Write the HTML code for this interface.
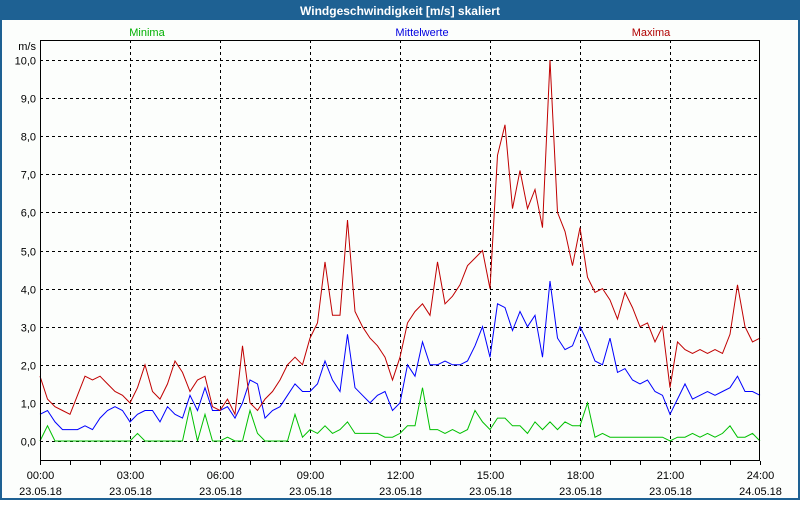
<!DOCTYPE html>
<html><head><meta charset="utf-8"><style>
body{margin:0;width:800px;height:500px;overflow:hidden;font-family:"Liberation Sans",sans-serif}
</style></head><body>
<svg id="chart" width="800" height="500" xmlns="http://www.w3.org/2000/svg" font-family="Liberation Sans, sans-serif">
<rect x="0" y="0" width="800" height="500" fill="#1e6193"/>
<rect x="2" y="20" width="796" height="478" fill="#fcfefc"/>
<text x="400" y="15" fill="#fff" font-size="12" font-weight="bold" text-anchor="middle">Windgeschwindigkeit [m/s] skaliert</text>
<text x="147" y="36" fill="#00b000" font-size="11" text-anchor="middle">Minima</text>
<text x="422" y="36" fill="#0000e0" font-size="11" text-anchor="middle">Mittelwerte</text>
<text x="651" y="36" fill="#b00000" font-size="11" text-anchor="middle">Maxima</text>
<text x="36" y="50" font-size="11" text-anchor="end">m/s</text>
<g id="grid"></g>
<g id="series"></g>
<rect x="40.5" y="40.5" width="719" height="420" fill="none" stroke="#000"/>
<g id="axes"></g>
</svg>
<script>
const hours=[0,3,6,9,12,15,18,21,24];
const dateLabels=["23.05.18","23.05.18","23.05.18","23.05.18","23.05.18","23.05.18","23.05.18","23.05.18","24.05.18"];
const yTicks=[0,1,2,3,4,5,6,7,8,9,10];
const maxima=[1.7,1.1,0.9,0.8, 0.7,1.2,1.7,1.6, 1.7,1.5,1.3,1.2, 1.0,1.4,2.0,1.3, 1.1,1.5,2.1,1.8, 1.3,1.6,1.7,0.9, 0.8,1.1,0.7,2.5, 1.0,0.8,1.1,1.3, 1.6,2.0,2.2,2.0, 2.7,3.1,4.7,3.3, 3.3,5.8,3.4,3.0, 2.7,2.5,2.2,1.6, 2.2,3.1,3.4,3.6, 3.3,4.7,3.6,3.8, 4.1,4.6,4.8,5.0, 4.0,7.5,8.3,6.1, 7.1,6.1,6.6,5.6, 10.0,6.0,5.5,4.6, 5.6,4.3,3.9,4.0, 3.7,3.2,3.9,3.5, 3.0,3.1,2.6,3.0, 1.4,2.6,2.4,2.3, 2.4,2.3,2.4,2.3, 2.8,4.1,3.0,2.6, 2.7];
const mittel=[0.7,0.8,0.5,0.3, 0.3,0.3,0.4,0.3, 0.6,0.8,0.9,0.8, 0.5,0.7,0.8,0.8, 0.5,0.9,0.7,0.6, 1.2,0.8,1.4,0.8, 0.8,0.9,0.6,1.0, 1.6,1.5,0.6,0.8, 0.9,1.2,1.5,1.3, 1.3,1.5,2.1,1.6, 1.3,2.8,1.4,1.2, 1.0,1.2,1.3,0.8, 1.0,2.0,1.7,2.6, 2.0,2.0,2.1,2.0, 2.0,2.1,2.5,3.0, 2.2,3.6,3.5,2.9, 3.4,3.0,3.3,2.2, 4.2,2.7,2.4,2.5, 3.0,2.6,2.1,2.0, 2.7,1.8,1.9,1.6, 1.5,1.6,1.3,1.2, 0.7,1.1,1.5,1.1, 1.2,1.3,1.2,1.3, 1.4,1.7,1.3,1.3, 1.2];
const minima=[0,0.4,0,0, 0,0,0,0, 0,0,0,0, 0,0.2,0,0, 0,0,0,0, 0.9,0,0.7,0, 0,0.1,0,0, 0.8,0.2,0,0, 0,0,0.7,0.1, 0.3,0.2,0.4,0.2, 0.3,0.5,0.2,0.2, 0.2,0.2,0.1,0.1, 0.2,0.4,0.4,1.4, 0.3,0.3,0.2,0.3, 0.2,0.3,0.8,0.5, 0.3,0.6,0.6,0.4, 0.4,0.2,0.5,0.3, 0.5,0.3,0.5,0.4, 0.4,1.0,0.1,0.2, 0.1,0.1,0.1,0.1, 0.1,0.1,0.1,0.1, 0,0.1,0.1,0.2, 0.1,0.2,0.1,0.2, 0.4,0.1,0.1,0.2, 0];
const NS="http://www.w3.org/2000/svg";
const xScale=h=>40+h*30;
const yScale=v=>441-v*38.1;
function mk(tag,attrs,parent){const e=document.createElementNS(NS,tag);for(const k in attrs)e.setAttribute(k,attrs[k]);parent.appendChild(e);return e;}
const grid=document.getElementById('grid'),axes=document.getElementById('axes'),series=document.getElementById('series');
yTicks.forEach(v=>{
  const y=Math.round(yScale(v))+0.5;
  const l=mk('line',{x1:40,x2:760,y1:y,y2:y,stroke:'#000','stroke-dasharray':'3,3'},grid);
  
  
  const t=mk('text',{x:36,y:y+4,'font-size':11,'text-anchor':'end'},axes);
  t.textContent=v.toFixed(1).replace('.',',');
  
  
});
hours.forEach((h,i)=>{
  const x=xScale(h)+0.5;
  if(h>0&&h<24){const l=mk('line',{x1:x,x2:x,y1:40,y2:461,stroke:'#000','stroke-dasharray':'3,3'},grid);
  
  }
  const t=mk('text',{x:x,y:479,'font-size':11,'text-anchor':'middle'},axes);
  t.textContent=String(h).padStart(2,'0')+':00';
  
  
  const d=mk('text',{x:x,y:495,'font-size':11,'text-anchor':'middle'},axes);
  d.textContent=dateLabels[i];
  
  
});
for(let h=0;h<=24;h++){const x=xScale(h)+0.5;mk('line',{x1:x,x2:x,y1:461,y2:465,stroke:'#000'},axes);}
function line(data,color,name){
  const pts=data.map((v,i)=>xScale(i*0.25).toFixed(1)+','+yScale(v).toFixed(1)).join(' ');
  const p=mk('polyline',{points:pts,fill:'none',stroke:color,'stroke-width':1},series);
  
  
}
line(minima,'#00c000','minima-line');
line(mittel,'#0000ff','mittelwerte-line');
line(maxima,'#c00000','maxima-line');
</script>
</body></html>
